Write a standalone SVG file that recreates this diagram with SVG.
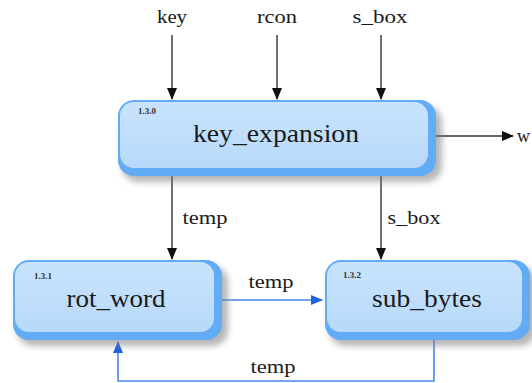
<svg xmlns="http://www.w3.org/2000/svg" width="532" height="383" viewBox="0 0 532 383">
  <style>
    text { font-family: "Liberation Serif", "DejaVu Serif", serif; fill: #1a1a1a; }
    .big { font-size: 26px; }
    .small { font-size: 18px; }
    .num { font-size: 9px; font-weight: bold; fill: #333; }
    .bevel { fill: #62acf6; }
    .face { fill: url(#faceGrad); }
    .shadow { fill: #7a7a7a; opacity: 0.55; filter: url(#soft); }
    .wire { stroke: #333; stroke-width: 1.4; fill: none; }
    .wire-blue { stroke: #4a86e8; stroke-width: 1.6; fill: none; }
  </style>
  <defs>
    <linearGradient id="faceGrad" x1="0" y1="0" x2="0" y2="1">
      <stop offset="0" stop-color="#c9e3fc"/>
      <stop offset="1" stop-color="#b8d9fa"/>
    </linearGradient>
    <filter id="soft" x="-10%" y="-10%" width="130%" height="140%">
      <feGaussianBlur stdDeviation="3"/>
    </filter>
    <marker id="headBlack" markerWidth="12" markerHeight="10" refX="11" refY="5" orient="auto" markerUnits="userSpaceOnUse">
      <path d="M0,0 L12,5 L0,10 Z" fill="#111"/>
    </marker>
    <marker id="headBlue" markerWidth="12" markerHeight="10" refX="11" refY="5" orient="auto" markerUnits="userSpaceOnUse">
      <path d="M0,0 L12,5 L0,10 Z" fill="#1f63e0"/>
    </marker>
  </defs>

  <!-- connectors -->
  <g id="connectors">
    <line class="wire" x1="172" y1="35" x2="172" y2="99" marker-end="url(#headBlack)"/>
    <line class="wire" x1="277" y1="35" x2="277" y2="99" marker-end="url(#headBlack)"/>
    <line class="wire" x1="381" y1="35" x2="381" y2="99" marker-end="url(#headBlack)"/>
    <line class="wire" x1="436" y1="136" x2="513" y2="136" marker-end="url(#headBlack)" stroke="#555"/>
    <line class="wire" x1="172" y1="176" x2="172" y2="259" marker-end="url(#headBlack)"/>
    <line class="wire" x1="381" y1="176" x2="381" y2="259" marker-end="url(#headBlack)"/>
    <line class="wire-blue" x1="222" y1="300" x2="322" y2="300" marker-end="url(#headBlue)"/>
    <polyline class="wire-blue" points="434,340 434,381 118,381 118,342" marker-end="url(#headBlue)"/>

    <text class="small" x="172" y="23" text-anchor="middle" textLength="30" lengthAdjust="spacingAndGlyphs">key</text>
    <text class="small" x="277" y="23" text-anchor="middle" textLength="40" lengthAdjust="spacingAndGlyphs">rcon</text>
    <text class="small" x="380" y="23" text-anchor="middle" textLength="55" lengthAdjust="spacingAndGlyphs">s_box</text>
    <text class="small" x="517" y="142">w</text>
    <text class="small" x="205" y="224" text-anchor="middle" textLength="45" lengthAdjust="spacingAndGlyphs">temp</text>
    <text class="small" x="414" y="224" text-anchor="middle" textLength="53" lengthAdjust="spacingAndGlyphs">s_box</text>
    <text class="small" x="271" y="288" text-anchor="middle" textLength="45" lengthAdjust="spacingAndGlyphs">temp</text>
    <text class="small" x="273" y="373" text-anchor="middle" textLength="45" lengthAdjust="spacingAndGlyphs">temp</text>
  </g>

  <!-- process 1.3.0 -->
  <g id="key_expansion">
    <rect class="shadow" x="122" y="106" width="320" height="76" rx="16"/>
    <rect class="bevel" x="118" y="100" width="318" height="76" rx="16"/>
    <rect class="face" x="120" y="102" width="308" height="66" rx="14"/>
    <text class="num" x="138" y="114">1.3.0</text>
    <text class="big" x="276" y="142" text-anchor="middle" textLength="166" lengthAdjust="spacingAndGlyphs">key_expansion</text>
  </g>

  <!-- process 1.3.1 -->
  <g id="rot_word">
    <rect class="shadow" x="17" y="266" width="211" height="80" rx="16"/>
    <rect class="bevel" x="13" y="260" width="209" height="80" rx="16"/>
    <rect class="face" x="15" y="262" width="199" height="70" rx="14"/>
    <text class="num" x="34" y="279">1.3.1</text>
    <text class="big" x="116" y="307" text-anchor="middle" textLength="99" lengthAdjust="spacingAndGlyphs">rot_word</text>
  </g>

  <!-- process 1.3.2 -->
  <g id="sub_bytes">
    <rect class="shadow" x="329" y="266" width="207" height="80" rx="16"/>
    <rect class="bevel" x="325" y="260" width="205" height="80" rx="16"/>
    <rect class="face" x="327" y="262" width="195" height="70" rx="14"/>
    <text class="num" x="343" y="278">1.3.2</text>
    <text class="big" x="427" y="307" text-anchor="middle" textLength="110" lengthAdjust="spacingAndGlyphs">sub_bytes</text>
  </g>
</svg>
